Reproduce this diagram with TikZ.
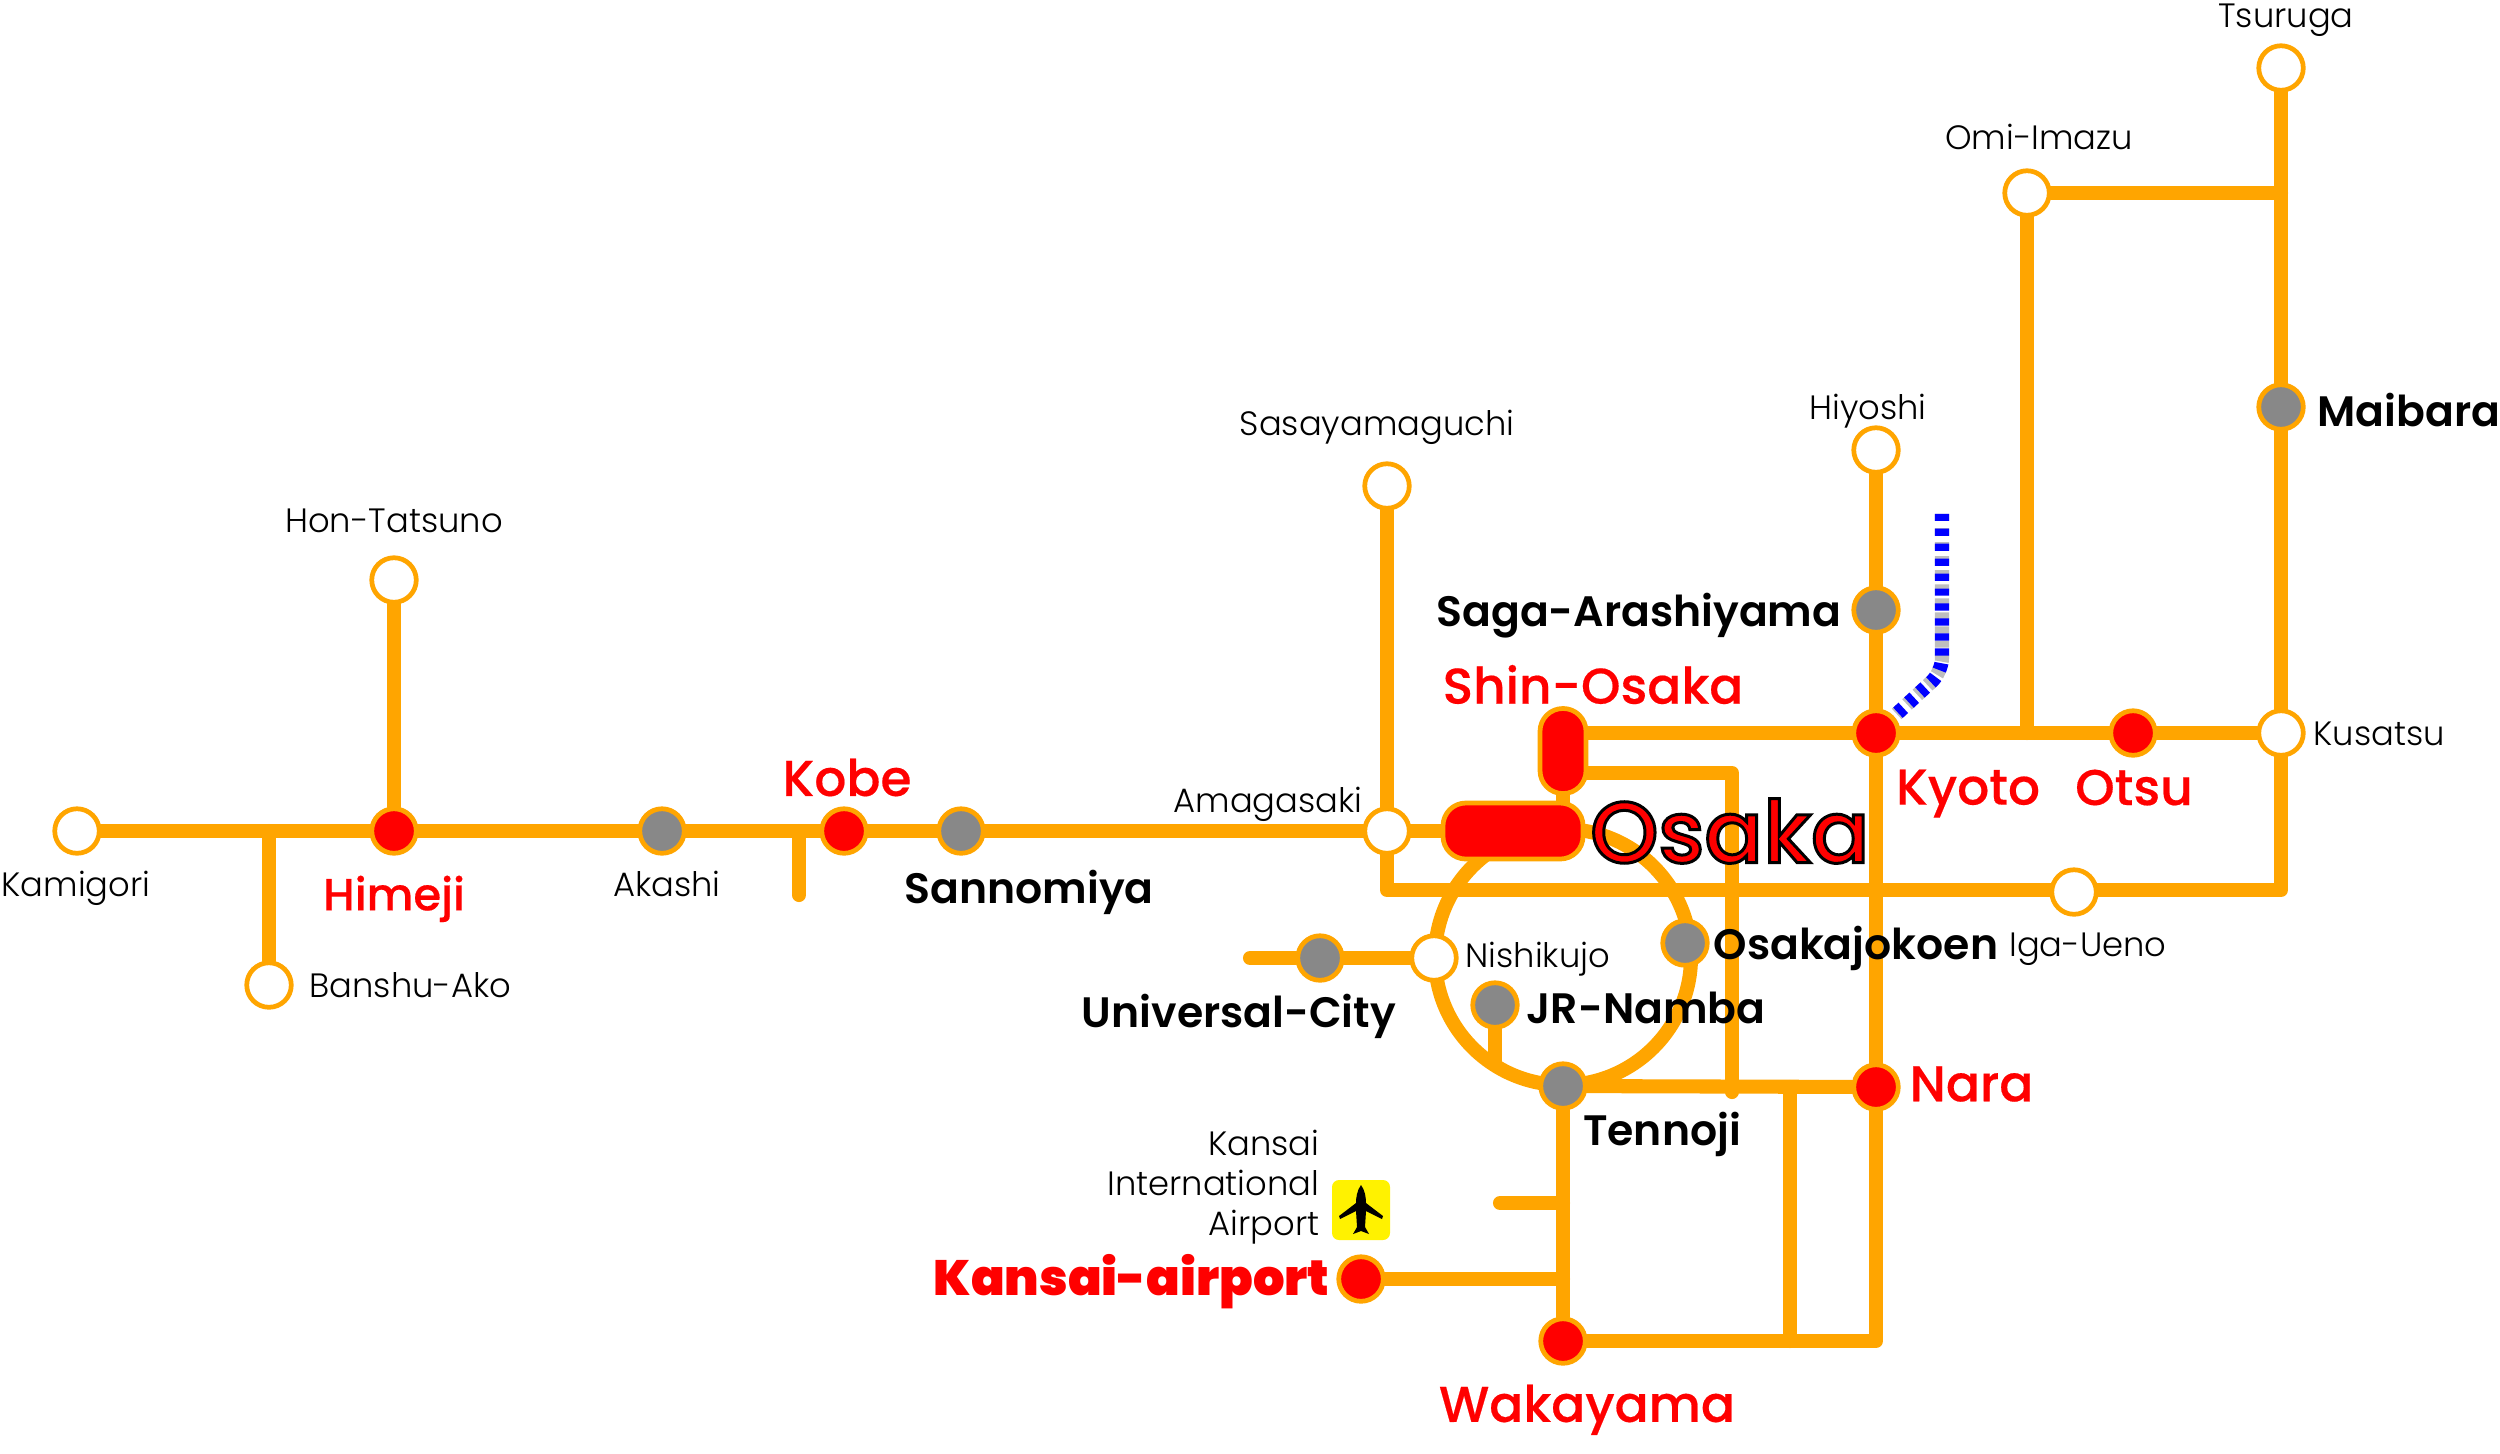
\documentclass[tikz,border=0pt]{standalone}
\usepackage{fontspec}
\usepackage{tikz}
\usetikzlibrary{
	positioning,
	backgrounds
}
\setmainfont{Poppins}
\newfontfamily\popLight{Poppins Light}
\newfontfamily\popSemi{Poppins SemiBold}
\newfontfamily\popMedium{Poppins Medium}
\newfontfamily\popRed[FakeBold=0.35]{Poppins Medium}
\newfontfamily\popHeavy{Poppins Black}
\definecolor{RailOrange}{RGB}{255,165,0}
\definecolor{StopGrey}{RGB}{136,136,136}
\definecolor{RailBlue}{RGB}{0,0,255}
\definecolor{DashGrey}{RGB}{190,190,190}
\newcommand{\outlinedtext}[1]{\special{pdf:code q 2 Tr 0.85 w 0 0 0 RG 1 0 0 rg}#1\special{pdf:code Q}}
\tikzset{
	railline/.style={RailOrange,line width=4pt,line cap=round,line join=round},
	stopopen/.style={circle,draw=RailOrange,fill=white,line width=1.35pt,minimum size=.445cm,inner sep=0pt},
	stopmajor/.style={stopopen,fill=red},
	stopmid/.style={stopopen,fill=StopGrey},
	pill/.style={draw=RailOrange,fill=red,line width=1.35pt,rounded corners=6.5pt,inner sep=0pt},
	smalltag/.style={inner sep=0pt,outer sep=0pt,font=\fontsize{9.6}{11.4}\selectfont\popLight},
	boldtag/.style={inner sep=0pt,outer sep=0pt,font=\fontsize{12.1}{14}\selectfont\popSemi},
	redtag/.style={inner sep=0pt,outer sep=0pt,text=red,font=\fontsize{14.3}{16}\selectfont\popRed}
}

\begin{document}
\begin{tikzpicture}[x=.01cm,y=.01cm]
	\useasboundingbox (0,0) rectangle (2500,-1453);
	
	\node[stopopen] (Tsuruga) at (2281,-68) {};
	\node[stopopen] (Omi) at (2027,-193) {};
	\node[stopmid] (Maibara) at (2281,-407) {};
	\node[stopopen] (Hiyoshi) at (1876,-450) {};
	\node[stopopen] (Sasayama) at (1387,-486) {};
	\node[stopopen] (Tatsuno) at (394,-580) {};
	\node[stopmid] (Saga) at (1876,-610) {};
	\node[stopmajor] (Kyoto) at (1876,-733) {};
	\node[stopmajor] (Otsu) at (2133,-733) {};
	\node[stopopen] (Kusatsu) at (2281,-733) {};
	\node[stopopen] (Kamigori) at (77,-831) {};
	\node[stopmajor] (Himeji) at (394,-831) {};
	\node[stopmid] (Akashi) at (662,-831) {};
	\node[stopmajor] (Kobe) at (844,-831) {};
	\node[stopmid] (Sannomiya) at (961,-831) {};
	\node[stopopen] (Amagasaki) at (1387,-831) {};
	\node[stopopen] (Ako) at (269,-985) {};
	\node[stopopen] (Iga) at (2074,-892) {};
	\node[stopopen] (Nishikujo) at (1434,-958) {};
	\node[stopmid] (Universal) at (1320,-958) {};
	\node[stopmid] (Jokoen) at (1685,-943) {};
	\node[stopmid] (Namba) at (1495,-1005) {};
	\node[stopmid] (Tennoji) at (1563,-1086) {};
	\node[stopmajor] (Nara) at (1876,-1087) {};
	\node[stopmajor] (Airport) at (1361,-1279) {};
	\node[stopmajor] (Wakayama) at (1563,-1341) {};
	\node[pill,minimum width=.46cm,minimum height=.85cm] (Shin) at (1563,-751) {};
	\node[pill,minimum width=1.4cm,minimum height=.56cm] (Osaka) at (1513,-831) {};
	
	\coordinate (AkoTurn) at (269,-831);
	\coordinate (KobeTurn) at (799,-831);
	\coordinate (KobeStub) at (799,-895);
	\coordinate (AmaTurn) at (1387,-890);
	\coordinate (KusTurn) at (2281,-890);
	\coordinate (OmiTurn) at (2281,-193);
	\coordinate (OmiFoot) at (2027,-733);
	\coordinate (ShinSide) at (1563,-773);
	\coordinate (ShinEast) at (1732,-773);
	\coordinate (ShinFoot) at (1732,-1092);
	\coordinate (NaraFoot) at (1876,-1341);
	\coordinate (CrossTop) at (1790,-1087);
	\coordinate (CrossFoot) at (1790,-1341);
	\coordinate (UniEnd) at (1250,-958);
	\coordinate (NambaFoot) at (1495,-1063);
	\coordinate (StubRoot) at (1563,-1203);
	\coordinate (StubEnd) at (1500,-1203);
	\coordinate (AirRoot) at (1563,-1279);
	\coordinate (RingMid) at (1563,-957);
	\coordinate (BlueBend) at (1942,-672);
	\coordinate (BlueEnd) at (1942,-512);
	
	\begin{scope}[on background layer]
		\draw[railline] (Kamigori) -- (Osaka);
		\draw[railline] (AkoTurn) -- (Ako);
		\draw[railline] (KobeTurn) -- (KobeStub);
		\draw[railline] (Tatsuno) -- (Himeji);
		\draw[railline] (Sasayama) -- (AmaTurn) -- (KusTurn) -- (Tsuruga);
		\draw[railline] (OmiTurn) -- (Omi) -- (OmiFoot);
		\draw[railline] (Shin.center |- Kyoto) -- (Kusatsu);
		\draw[railline] (Hiyoshi) -- (NaraFoot) -- (Wakayama);
		\draw[railline] (Shin) -- (Shin |- Osaka);
		\draw[railline] (ShinSide) -- (ShinEast) -- (ShinFoot);
		\draw[railline] (Tennoji) -- (Nara);
		\draw[railline] (Tennoji) -- (Wakayama);
		\draw[railline] (CrossTop) -- (CrossFoot);
		\draw[railline] (Universal) -- (UniEnd);
		\draw[railline] (Universal) -- (Nishikujo);
		\draw[railline] (Namba) -- (NambaFoot);
		\draw[railline] (StubRoot) -- (StubEnd);
		\draw[railline] (Airport) -- (AirRoot);
		\draw[railline] (RingMid) circle [radius=128];
		\draw[DashGrey,line width=4pt,dash pattern=on 2pt off 2pt,rounded corners=4pt] (Kyoto.center) -- (BlueBend) -- (BlueEnd);
		\draw[RailBlue,line width=4pt,dash pattern=on 2.05pt off 2.2pt,rounded corners=4pt] (Kyoto.center) -- (BlueBend) -- (BlueEnd);
	\end{scope}
	
	\node[smalltag,above=.07cm of Tsuruga,xshift=.05cm] (TagTsuruga) {Tsuruga};
	\node[smalltag,above=.19cm of Omi,xshift=.12cm] (TagOmi) {Omi-Imazu};
	\node[boldtag,right=.12cm of Maibara,yshift=-.03cm] (TagMaibara) {Maibara};
	\node[smalltag,above=-.03cm of Hiyoshi,xshift=-.08cm] (TagHiyoshi) {Hiyoshi};
	\node[smalltag,above=.17cm of Sasayama,xshift=-.1cm] (TagSasayama) {Sasayamaguchi};
	\node[smalltag,above=.23cm of Tatsuno] (TagTatsuno) {Hon-Tatsuno};
	\node[boldtag,left=.1cm of Saga,yshift=-.06cm] (TagSaga) {Saga-Arashiyama};
	\node[redtag,above=.02cm of Shin,xshift=.3cm] (TagShin) {Shin-Osaka};
	\node[redtag,below=.12cm of Kyoto,xshift=.92cm] (TagKyoto) {Kyoto};
	\node[redtag,below=.12cm of Otsu,xshift=.01cm] (TagOtsu) {Otsu};
	\node[smalltag,right=.08cm of Kusatsu,yshift=-.01cm] (TagKusatsu) {Kusatsu};
	\node[redtag,above=.1cm of Kobe,xshift=.03cm] (TagKobe) {Kobe};
	\node[boldtag,below=.14cm of Sannomiya,xshift=.68cm] (TagSannomiya) {Sannomiya};
	\node[smalltag,below=.15cm of Akashi,xshift=.05cm] (TagAkashi) {Akashi};
	\node[redtag,below=.2cm of Himeji,font=\fontsize{12.8}{15}\selectfont\popRed] (TagHimeji) {Himeji};
	\node[smalltag,below=.15cm of Kamigori,xshift=-.01cm] (TagKamigori) {Kamigori};
	\node[smalltag,right=.16cm of Ako] (TagAko) {Banshu-Ako};
	\node[smalltag,left=0cm of Amagasaki,yshift=.27cm] (TagAmagasaki) {Amagasaki};
	\node[smalltag,below=.16cm of Iga,xshift=.14cm] (TagIga) {Iga-Ueno};
	\node[smalltag,right=.07cm of Nishikujo,yshift=-.01cm] (TagNishikujo) {Nishikujo};
	\node[boldtag,below=.11cm of Universal,xshift=-.81cm] (TagUniversal) {Universal-City};
	\node[boldtag,right=.04cm of Jokoen,yshift=-.05cm] (TagJokoen) {Osakajokoen};
	\node[boldtag,right=.07cm of Namba,yshift=-.03cm] (TagNamba) {JR-Namba};
	\node[boldtag,below=.01cm of Tennoji,xshift=.99cm] (TagTennoji) {Tennoji};
	\node[redtag,right=.09cm of Nara,yshift=.03cm] (TagNara) {Nara};
	\node[redtag,below=.19cm of Wakayama,xshift=.24cm] (TagWakayama) {Wakayama};
	\node[redtag,left=.07cm of Airport,yshift=-.03cm,font=\fontsize{14.1}{16}\selectfont\popHeavy] (TagAirport) {Kansai-airport};
	\node[right=.05cm of Osaka,inner sep=0pt,outer sep=0pt,font=\fontsize{24.6}{27}\selectfont\popMedium] (TagOsaka) {\outlinedtext{Osaka}};
	
	\node[fill=yellow,rounded corners=2pt,minimum width=.58cm,minimum height=.6cm,inner sep=0pt] (Plane) at (1361,-1210) {};
	\fill[black,shift={(Plane.center)}] (0,25) .. controls (4,20) and (5,12) .. (5,7) -- (22,-6) -- (21,-9) -- (5,-1) -- (4,-17) -- (8,-24) -- (0,-21) -- (-8,-24) -- (-4,-17) -- (-5,-1) -- (-21,-9) -- (-22,-6) -- (-5,7) .. controls (-5,12) and (-4,20) .. (0,25);
	\node[smalltag,left=.12cm of Plane,yshift=.23cm,align=right] (TagPlane) {Kansai\\International\\Airport};
\end{tikzpicture}
\end{document}
